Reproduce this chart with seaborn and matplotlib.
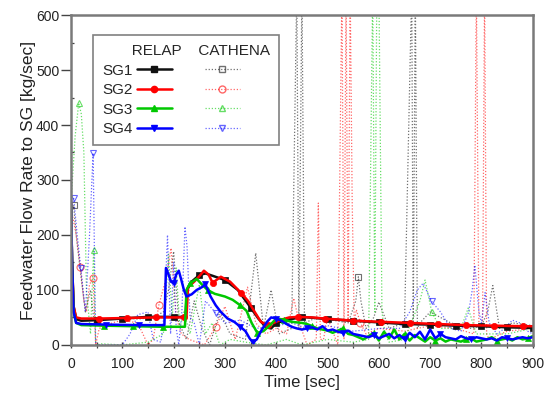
import numpy as np
import matplotlib
matplotlib.use("Agg")
import matplotlib.pyplot as plt
from matplotlib.lines import Line2D
from matplotlib.ticker import MultipleLocator
import seaborn as sns

# ---------------- data ----------------
# RELAP (solid lines with filled markers)
relap_sg1_t = [0, 2, 5, 10, 20, 50, 100, 150, 200, 223, 226, 235, 250, 262, 275, 300, 325, 350, 365, 380, 390, 400,
               420, 450, 500, 550, 600, 650, 700, 750, 800, 850, 900]
relap_sg1 = [255, 150, 70, 47, 44, 45, 48, 51, 51, 51, 100, 115, 127, 130, 126, 118, 100, 68, 48, 32, 30, 40,
             45, 51, 47, 44, 41, 38, 37, 35, 34, 32, 31]
relap_sg1_marks = [50, 100, 150, 200, 250, 300, 350, 400, 450, 500, 550, 600, 650, 700, 750, 800, 850, 900]

relap_sg2_t = [0, 2, 5, 10, 20, 55, 110, 165, 220, 225, 228, 240, 250, 259, 268, 276, 292, 310, 331, 345, 358, 370,
               383, 395, 410, 425, 443, 470, 495, 550, 605, 660, 715, 770, 825, 880, 900]
relap_sg2 = [258, 150, 70, 50, 48, 48, 49, 50, 50, 50, 105, 115, 125, 135, 128, 113, 124, 115, 95, 80, 60, 42,
             36, 40, 46, 50, 51, 50, 48, 44, 42, 40, 38, 36, 35, 34, 34]
relap_sg2_marks = [55, 110, 165, 220, 276, 331, 383, 443, 495, 550, 605, 660, 715, 770, 825, 880]

relap_sg3_t = [0, 2, 5, 10, 20, 64, 121, 179, 222, 225, 232, 245, 255, 266, 280, 300, 315, 330, 342, 352, 363, 375,
               390, 400, 415, 430, 450,
               460, 470, 480, 490, 500, 510, 520, 530, 540, 550, 560, 570, 580, 590, 600, 610, 620, 630, 640, 650,
               660, 670, 680, 690, 700, 710, 720, 730, 740, 750, 760, 770, 780, 790, 800, 810, 820, 830, 840, 850,
               860, 870, 880, 890, 900]
relap_sg3 = [255, 150, 60, 40, 36, 35, 34, 33, 33, 100, 112, 120, 110, 100, 93, 88, 82, 72, 62, 40, 22, 25,
             38, 48, 46, 42, 40,
             38, 34, 30, 28, 26, 22, 26, 30, 20, 18, 14, 10, 16, 22, 8, 24, 12, 28, 10, 20,
             8, 18, 12, 6, 14, 8, 12, 6, 10, 8, 6, 10, 12, 6, 8, 10, 14, 8, 10, 12,
             8, 14, 10, 12, 16]
relap_sg3_marks = [64, 121, 179, 232, 266, 330, 363, 415, 470, 530, 590, 650, 710, 770, 830, 890]

relap_sg4_t = [0, 2, 5, 10, 20, 68, 132, 182, 185, 190, 195, 200, 205, 210, 215, 220, 225, 235, 245, 255, 262, 272,
               282, 292, 305, 318, 330, 340, 348, 354, 362, 372, 382, 390, 400, 410, 420, 430, 440, 450,
               460, 470, 480, 490, 500, 510, 520, 530, 540, 550, 560, 570, 580, 590, 600, 610, 620, 630, 640, 650,
               660, 670, 680, 690, 700, 710, 720, 730, 740, 750, 760, 770, 780, 790, 800, 810, 820, 830, 840, 850,
               860, 870, 880, 890, 900]
relap_sg4 = [262, 150, 60, 40, 38, 37, 36, 36, 140, 128, 115, 112, 128, 135, 118, 100, 88, 92, 100, 105, 110, 88,
             72, 60, 48, 42, 33, 25, 12, 5, 10, 28, 42, 50, 48, 44, 38, 33, 30, 28,
             30, 32, 28, 34, 26, 28, 24, 22, 26, 20, 18, 16, 14, 18, 12, 16, 20, 12, 18, 10,
             22, 14, 24, 10, 28, 12, 20, 14, 12, 10, 16, 12, 10, 14, 12, 10, 12, 8, 14, 12,
             10, 12, 14, 12, 14]
relap_sg4_marks = [68, 132, 200, 262, 330, 354, 400, 460, 530, 590, 650, 720, 780, 850]

# CATHENA (dotted lines with open markers)
cath_sg1_t = [0, 5, 10, 20, 28, 38, 45, 55, 80, 100, 130, 160, 180, 190, 200, 210, 225, 240, 255, 270, 290, 310,
              340, 360, 375, 390, 405, 430, 440, 444, 450, 455, 480, 510, 540, 555, 560, 565, 575, 590, 600, 620,
              650, 664, 667, 671, 675, 680, 700, 740, 780, 800, 812, 822, 835, 860, 900]
cath_sg1 = [255, 255, 200, 120, 60, 100, 40, 45, 48, 50, 47, 50, 60, 100, 170, 40, 10, 80, 30, 0, 60, 20,
            10, 167, 30, 100, 20, 30, 650, 30, 650, 40, 50, 45, 40, 80, 124, 80, 30, 50, 78, 30,
            40, 650, 40, 650, 30, 40, 60, 40, 30, 35, 60, 108, 30, 40, 35]
cath_sg1_marks = [5, 560]

cath_sg2_t = [0, 10, 18, 25, 30, 36, 43, 48, 55, 80, 100, 130, 150, 160, 171, 185, 195, 205, 215, 230, 260, 282,
              300, 320, 344, 360, 380, 400, 420, 434, 445, 460, 478, 482, 486, 492, 500, 520, 528, 532, 536, 540,
              544, 548, 552, 556, 564, 575, 600, 650, 700, 750, 785, 790, 795, 802, 806, 810, 815, 850, 900]
cath_sg2 = [250, 200, 142, 80, 60, 110, 122, 0, 30, 40, 45, 40, 0, 10, 72, 120, 176, 50, 20, 10, 0, 33,
            70, 10, 105, 40, 20, 30, 20, 85, 40, 0, 10, 258, 10, 10, 50, 0, 650, 10, 650, 40,
            650, 260, 40, 64, 40, 20, 30, 25, 35, 30, 20, 650, 30, 30, 650, 20, 10, 25, 30]
cath_sg2_marks = [18, 43, 171, 282, 564]

cath_sg3_t = [0, 8, 15, 20, 25, 30, 38, 44, 48, 60, 100, 150, 180, 190, 197, 205, 212, 220, 232, 250, 262, 275,
              290, 310, 340, 380, 420, 450, 500, 550, 580, 588, 592, 596, 600, 606, 612, 620, 650, 680, 690, 703,
              720, 760, 774, 790, 850, 900]
cath_sg3 = [260, 380, 440, 420, 350, 100, 20, 173, 0, 2, 0, 5, 20, 165, 50, 140, 30, 60, 20, 110, 20, 40,
            0, 10, 5, 0, 10, 0, 10, 5, 10, 650, 60, 650, 650, 60, 20, 5, 10, 80, 118, 60,
            30, 30, 67, 20, 20, 30]
cath_sg3_marks = [15, 44, 703]

cath_sg4_t = [0, 5, 12, 19, 28, 36, 43, 48, 55, 100, 115, 130, 150, 160, 175, 182, 188, 194, 200, 205, 210, 216,
              222, 226, 232, 240, 250, 262, 282, 300, 330, 360, 400, 430, 460, 500, 550, 600, 640, 660, 675, 686,
              703, 720, 740, 760, 775, 782, 787, 795, 800, 807, 815, 830, 845, 860, 875, 890, 900]
cath_sg4 = [270, 268, 200, 140, 60, 200, 349, 0, 0, 0, 20, 55, 60, 10, 5, 60, 200, 20, 150, 30, 0, 60,
            215, 180, 50, 40, 0, 80, 58, 40, 45, 30, 35, 40, 30, 35, 25, 30, 30, 60, 100, 112,
            79, 60, 30, 25, 60, 100, 145, 60, 40, 95, 40, 20, 30, 45, 40, 25, 20]
cath_sg4_marks = [5, 19, 43, 282, 703]

sg_labels = ["SG1", "SG2", "SG3", "SG4"]
x_ticks = [0, 100, 200, 300, 400, 500, 600, 700, 800, 900]
y_ticks = [0, 100, 200, 300, 400, 500, 600]

# ---------------- styling ----------------
sns.set_theme(style="white")
plt.rcParams['font.family'] = ['Liberation Sans', 'DejaVu Sans']

colors = ["#111111", "#ff0000", "#00c800", "#0000ff"]
relap_markers = ["s", "o", "^", "v"]
cath_markers = ["s", "o", "^", "v"]

fig = plt.figure(figsize=(5.55, 3.96), dpi=100)
ax = fig.add_axes([0.128, 0.129, 0.832, 0.833])

relap = [(relap_sg1_t, relap_sg1, relap_sg1_marks), (relap_sg2_t, relap_sg2, relap_sg2_marks),
         (relap_sg3_t, relap_sg3, relap_sg3_marks), (relap_sg4_t, relap_sg4, relap_sg4_marks)]
cath = [(cath_sg1_t, cath_sg1, cath_sg1_marks), (cath_sg2_t, cath_sg2, cath_sg2_marks),
        (cath_sg3_t, cath_sg3, cath_sg3_marks), (cath_sg4_t, cath_sg4, cath_sg4_marks)]

# CATHENA first (underneath)
for (t, v, mk), c, m in zip(cath, colors, cath_markers):
    mask = np.isin(np.array(t), mk)
    sns.lineplot(x=t, y=v, ax=ax, color=c, lw=0.9, alpha=0.6, linestyle=(0, (1, 1.5)),
                 marker=m, markevery=list(mask), ms=5, mfc="none", mec=c, mew=0.8,
                 estimator=None, sort=False, legend=False)

for (t, v, mk), c, m in zip(relap, colors, relap_markers):
    mask = np.isin(np.array(t), mk)
    sns.lineplot(x=t, y=v, ax=ax, color=c, lw=1.8, linestyle="-",
                 marker=m, markevery=list(mask), ms=4.5, mfc=c, mec=c, mew=0.5,
                 estimator=None, sort=False, legend=False)

ax.set_xlim(0, 900)
ax.set_ylim(0, 600)
ax.set_xticks(x_ticks)
ax.set_yticks(y_ticks)
ax.xaxis.set_minor_locator(MultipleLocator(50))
ax.yaxis.set_minor_locator(MultipleLocator(50))
ax.tick_params(axis="x", which="major", direction="inout", length=5, width=1, color="#444444",
               labelsize=10, labelcolor="#222222", pad=6, bottom=True)
ax.tick_params(axis="x", which="minor", direction="inout", length=4, width=0.9, color="#444444", bottom=True)
ax.tick_params(axis="y", which="major", direction="out", length=7, width=1, color="#444444",
               labelsize=10, labelcolor="#222222", pad=1.5, left=True)
ax.tick_params(axis="y", which="minor", direction="in", length=2, width=0.9, color="#444444", left=True)
for s in ax.spines.values():
    s.set_color("#7a7a7a")
    s.set_linewidth(1.8)

ax.set_xlabel("Time [sec]", fontsize=12, color="#222222", labelpad=3)
ax.set_ylabel("Feedwater Flow Rate to SG [kg/sec]", fontsize=12.5, color="#222222", labelpad=0)

# legend proxies
handles = []
for c, m in zip(colors, relap_markers):
    handles.append(Line2D([], [], color=c, lw=1.8, marker=m, ms=4.5, mfc=c, mec=c))
for c, m in zip(colors, cath_markers):
    handles.append(Line2D([], [], color=c, lw=0.9, alpha=0.6, linestyle=(0, (1, 1.5)),
                          marker=m, ms=5, mfc="none", mec=c))
labels = sg_labels + ["", "", "", ""]
leg = ax.legend(handles, labels, ncol=2, markerfirst=False, title="       RELAP    CATHENA",
                loc="upper left", bbox_to_anchor=(0.047, 0.94), borderaxespad=0,
                fontsize=11, title_fontsize=11, handlelength=2.3, handletextpad=0.3,
                columnspacing=1.85, labelspacing=0.36, fancybox=False, framealpha=1,
                edgecolor="#808080", alignment="left", borderpad=0.6)
leg.get_frame().set_linewidth(1.2)

fig.savefig("out.png", dpi=100)
